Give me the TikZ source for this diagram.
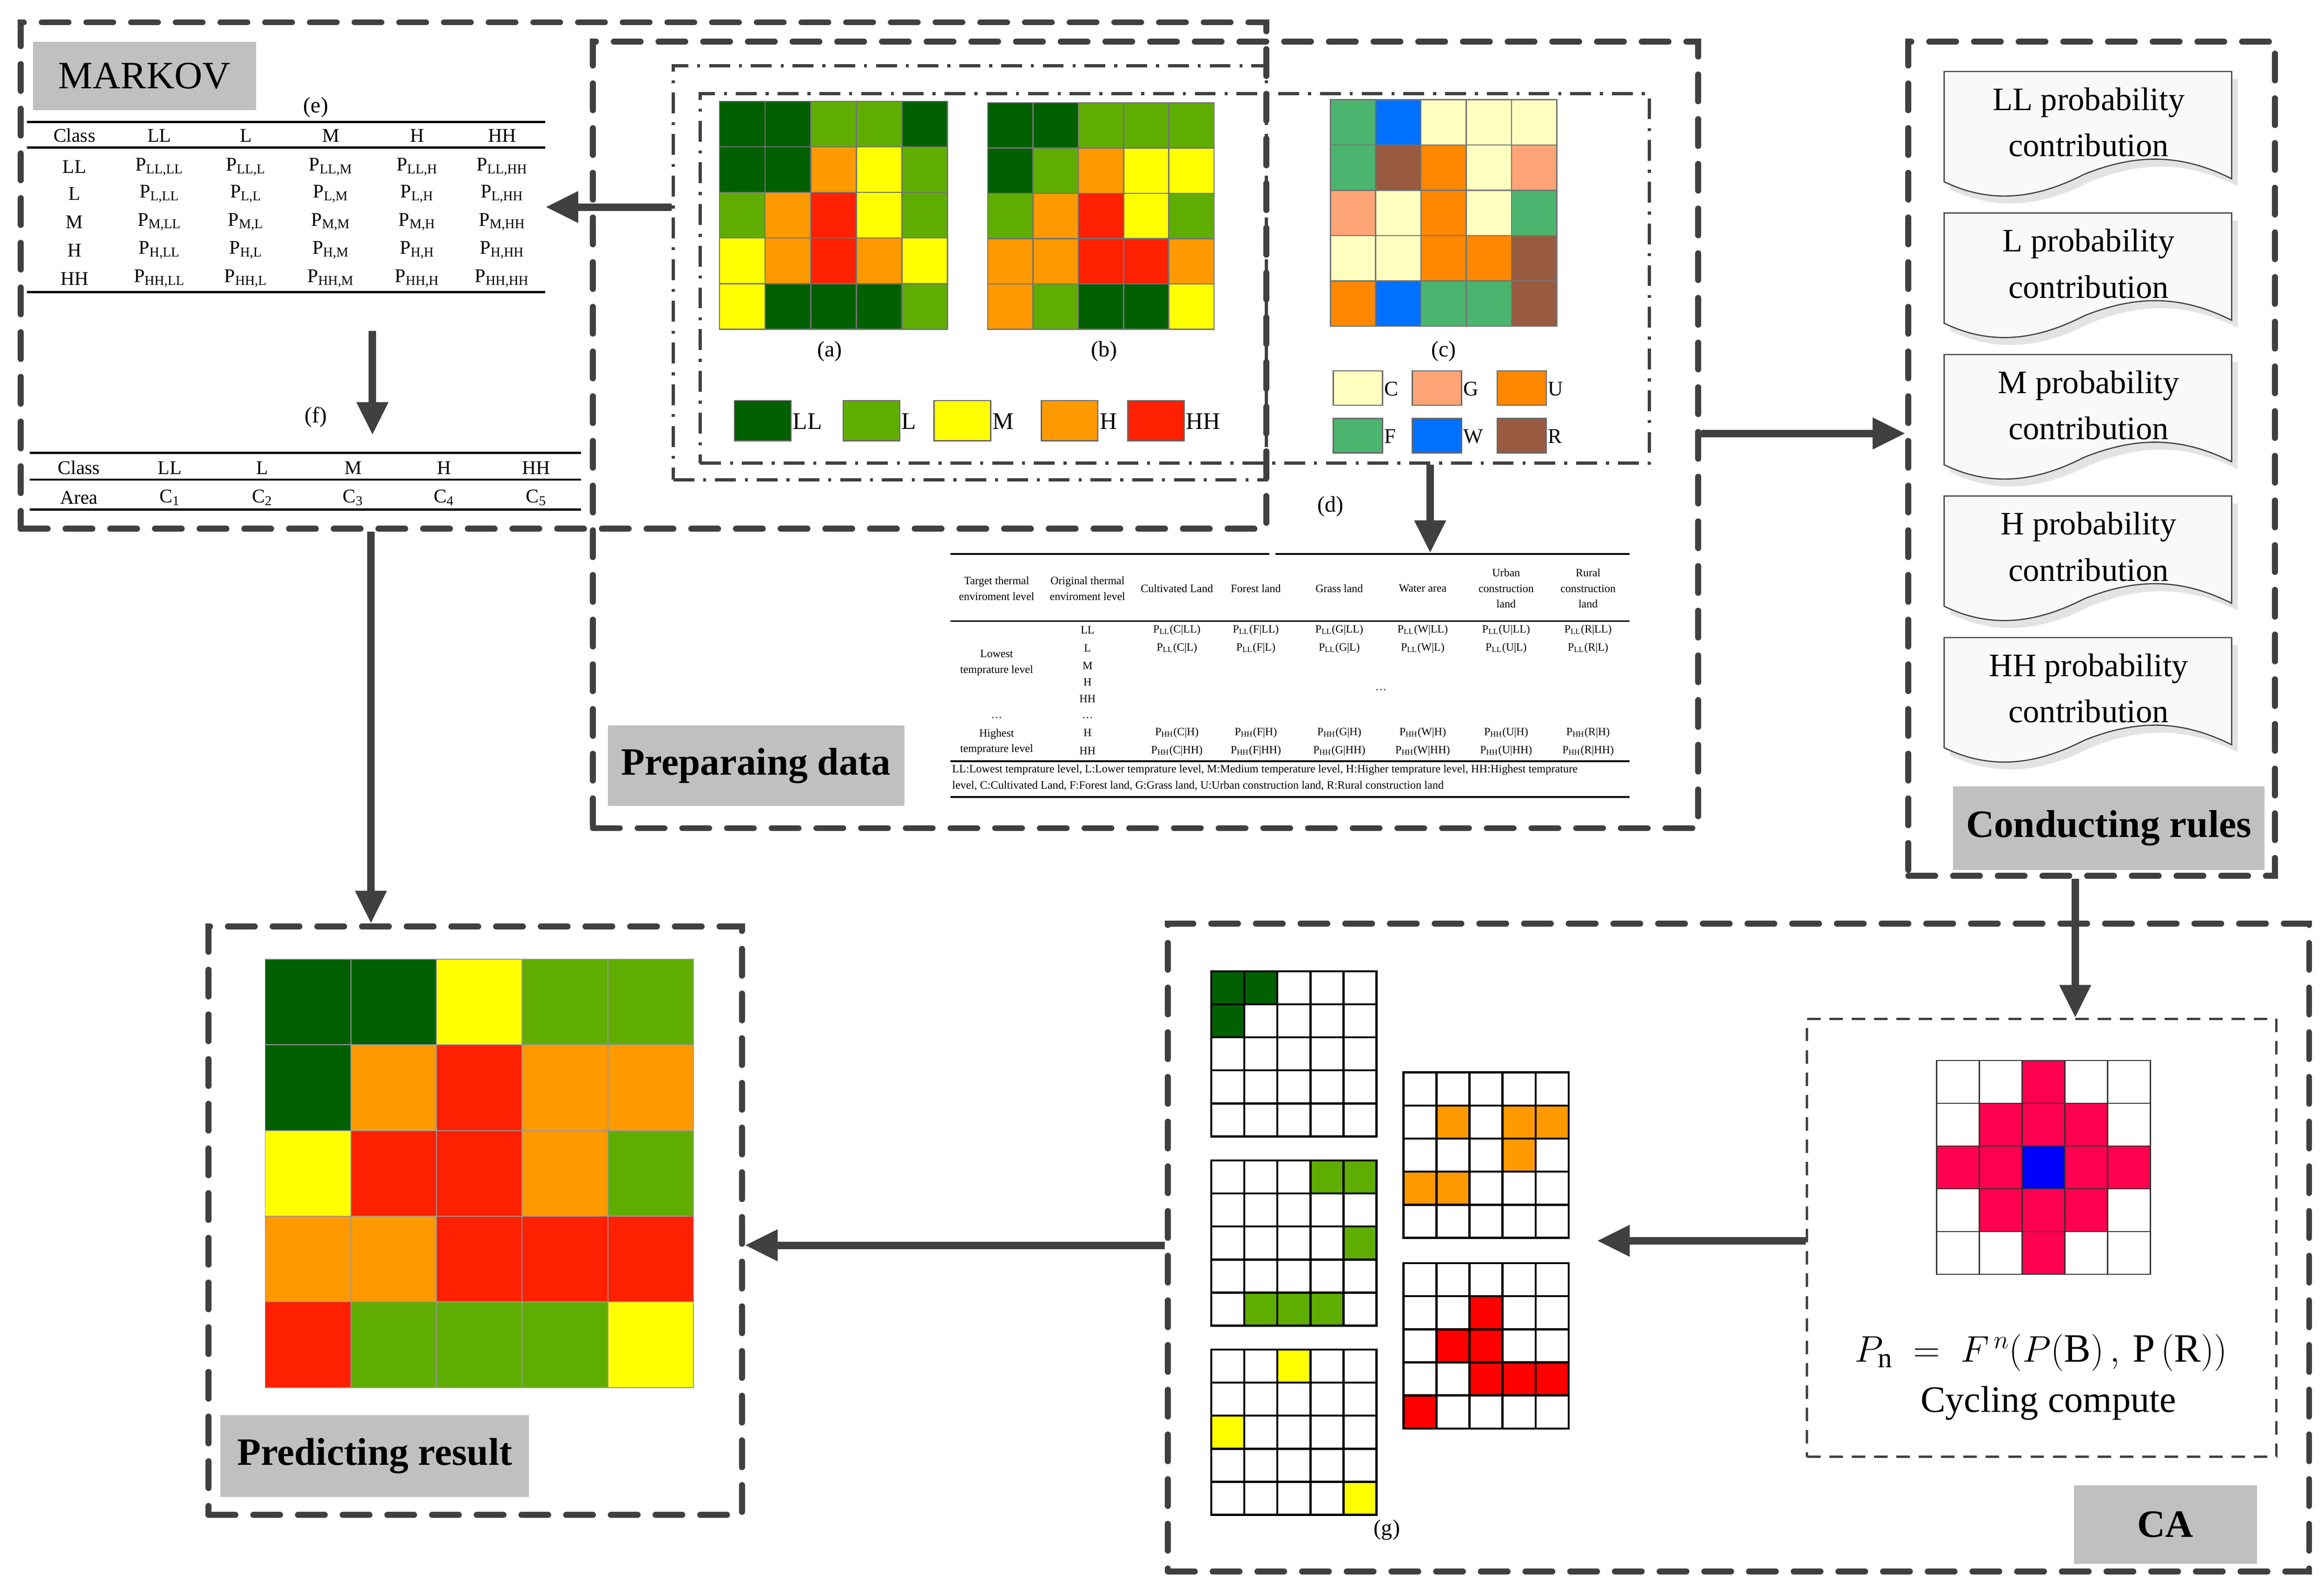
\documentclass[tikz,border=0pt]{standalone}
\usepackage{fontspec}
\setmainfont{Liberation Serif}
\usetikzlibrary{arrows.meta,calc}
\definecolor{kLL}{HTML}{006000}\definecolor{kL}{HTML}{5FAD00}\definecolor{kM}{HTML}{FFFF00}
\definecolor{kH}{HTML}{FF9900}\definecolor{kHH}{HTML}{FF2000}\definecolor{kC}{HTML}{FFFFC0}
\definecolor{kG}{HTML}{FFA477}\definecolor{kU}{HTML}{FF8800}\definecolor{kF}{HTML}{4BB56F}
\definecolor{kW}{HTML}{0070FF}\definecolor{kR}{HTML}{995B40}\definecolor{kO}{HTML}{FFFFFF}
\definecolor{kP}{HTML}{FF0050}\definecolor{kB}{HTML}{0000FF}\definecolor{kX}{HTML}{FF0000}
\definecolor{dk}{HTML}{404040}\definecolor{lab}{HTML}{C0C0C0}
\newcommand\cellgrid[5]{\foreach \row [count=\i from 0] in {#5} {\foreach \cc [count=\j from 0] in \row {\filldraw[fill=k\cc,#4] ({#1+\j*#3},{#2+\i*#3}) rectangle ++(#3,#3);}}}
\newcommand\fs[1]{\fontsize{#1}{#1}\selectfont}
\begin{document}
\begin{tikzpicture}[x=1pt,y=-1pt,
 bigbox/.style={draw=dk,line width=4pt,dash pattern=on 18pt off 12pt,line cap=round,inner sep=0pt},
 ddbox/.style={draw=dk,line width=2.2pt,dash pattern=on 14pt off 6pt on 2pt off 6pt,inner sep=0pt},
 thinbox/.style={draw=dk,line width=1.5pt,dash pattern=on 9pt off 6pt,inner sep=0pt},
 lbl/.style={fill=lab,inner sep=0pt,font=\fs{26}\bfseries},
 arr/.style={draw=dk,line width=5pt,-{Triangle[length=22pt,width=20pt]}},
 ph/.style={inner sep=0pt},
 te/.style={font=\fs{13},inner sep=0pt},
 td/.style={font=\fontsize{7.5}{10.5}\selectfont,inner sep=0pt,align=center},
 doc/.style={fill=gray!5,draw=black!75,line width=0.8pt},
 dtx/.style={font=\fontsize{22}{31}\selectfont,align=center,inner sep=0pt}]
\useasboundingbox (0,0) rectangle (1560,1066);
% boxes
\node[bigbox,minimum width=836pt,minimum height=340pt] (markov) at (432,185) {};
\node[bigbox,minimum width=742pt,minimum height=528pt] (prep) at (769,292) {};
\node[ddbox,minimum width=398pt,minimum height=278pt] (ddA) at (651,183) {};
\node[ddbox,minimum width=637pt,minimum height=248pt] (ddB) at (788.5,187) {};
\node[bigbox,minimum width=246pt,minimum height=560pt] (rules) at (1404,308) {};
\node[bigbox,minimum width=358pt,minimum height=395pt] (pred) at (319,819.5) {};
\node[bigbox,minimum width=766pt,minimum height=435pt] (ca) at (1167,837.5) {};
\node[thinbox,minimum width=315pt,minimum height=294pt] (cyc) at (1370.5,831) {};
% labels
\node[lbl,minimum width=150pt,minimum height=46pt,font=\fs{26}] (lmk) at (97,51) {MARKOV};
\node[lbl,minimum width=199pt,minimum height=54pt] (lpd) at (507.5,514) {Preparaing data};
\node[lbl,minimum width=209pt,minimum height=56pt] (lcr) at (1415.5,556) {Conducting rules};
\node[lbl,minimum width=207pt,minimum height=55pt] (lpr) at (251.5,977.5) {Predicting result};
\node[lbl,minimum width=123pt,minimum height=53pt] (lca) at (1453.5,1023.5) {CA};
% maps a b c
\cellgrid{483}{68}{30.6}{draw=black!55,line width=0.8pt}{{LL,LL,L,L,LL},{LL,LL,H,M,L},{L,H,HH,M,L},{M,H,HH,H,M},{M,LL,LL,LL,L}}
\cellgrid{663}{69}{30.4}{draw=black!55,line width=0.8pt}{{LL,LL,L,L,L},{LL,L,H,M,M},{L,H,HH,M,L},{H,H,HH,HH,H},{H,L,LL,LL,M}}
\cellgrid{893}{67}{30.4}{draw=black!55,line width=0.8pt}{{F,W,C,C,C},{F,R,U,C,G},{G,C,U,C,F},{C,C,U,U,R},{U,W,F,F,R}}
\node[te,font=\fs{15}] (la) at (557,236) {(a)};
\node[te,font=\fs{15}] (lb) at (741,236) {(b)};
\node[te,font=\fs{15}] (lc) at (969,236) {(c)};
% legends
\foreach \k/\x/\t in {LL/493/LL,L/566/L,M/627/M,H/699/H,HH/757/HH}{
 \filldraw[fill=k\k,draw=black!60,line width=0.8pt] (\x,269) rectangle ++(38,27);
 \node[te,font=\fs{16},anchor=west] (leg\k) at (\x+39,283) {\t};}
\foreach \k/\x/\y in {C/895/249,G/948/249,U/1005/249,F/895/281,W/948/281,R/1005/281}{
 \filldraw[fill=k\k,draw=black!60,line width=0.8pt] (\x,\y) rectangle ++(33,23);
 \node[te,font=\fs{14},anchor=west] (lg\k) at (\x+34,\y+12) {\k};}
\node[te,font=\fs{15}] (ld) at (893,340) {(d)};
% table e
\node[ph,minimum width=348pt,minimum height=114pt] (tabE) at (192,139) {};
\node[te,font=\fs{15}] (le) at (212,72) {(e)};
\foreach \yy in {82,99,196} \draw[line width=1.5pt] (18,\yy) -- (366,\yy);
\foreach \c/\x in {Class/50,LL/107,L/165,M/222,H/280,HH/337} \node[te] (eh\x) at (\x,91) {\c};
\foreach \r/\y in {LL/112,L/130,M/149,H/168,HH/187}{
 \node[te] (er\y) at (50,\y) {\r};
 \foreach \c/\x in {LL/107,L/165,M/222,H/280,HH/337} \node[te] (e\x\y) at (\x,\y) {P\textsubscript{\r,\c}};}
% table f
\node[ph,minimum width=370pt,minimum height=38pt] (tabF) at (205,323) {};
\node[te,font=\fs{15}] (lf) at (212,280) {(f)};
\foreach \yy in {304,322,342} \draw[line width=1.5pt] (20,\yy) -- (390,\yy);
\foreach \c/\x/\n in {Class/53/0,LL/114/1,L/176/2,M/237/3,H/298/4,HH/360/5}{
 \node[te] (fh\n) at (\x,314) {\c};
 \node[te] (fa\n) at (\x,334) {\ifnum\n=0 Area\else C\textsubscript{\n}\fi};}
% table d
\node[ph,minimum width=456pt,minimum height=163pt] (tabD) at (866,453) {};
\draw[line width=1.2pt] (638,372) -- (852,372) (856,372) -- (1094,372);
\foreach \yy in {417,511,535} \draw[line width=1.2pt] (638,\yy) -- (1094,\yy);
\foreach \t/\x [count=\n] in {Target thermal\\enviroment level/669,Original thermal\\enviroment level/730,Cultivated Land/790,Forest land/843,Grass land/899,Water area/955,Urban\\construction\\land/1011,Rural\\construction\\land/1066}
 \node[td] (dh\n) at (\x,395) {\t};
\foreach \t/\y [count=\n] in {LL/423,L/435,M/447,H/458,HH/469,\ldots/482,H/492,HH/504} \node[td] (do\n) at (730,\y) {\t};
\node[td] (dlow) at (669,445) {Lowest\\temprature level};
\node[td] (ddots) at (669,482) {\ldots};
\node[td] (dhigh) at (669,498) {Highest\\temprature level};
\node[td] (dmid) at (927,463) {\ldots};
\foreach \k/\x in {C/790,F/843,G/899,W/955,U/1011,R/1066}{
 \node[td] (dA\k) at (\x,423) {P\textsubscript{LL}(\k|LL)};
 \node[td] (dB\k) at (\x,435) {P\textsubscript{LL}(\k|L)};
 \node[td] (dC\k) at (\x,492) {P\textsubscript{HH}(\k|H)};
 \node[td] (dD\k) at (\x,504) {P\textsubscript{HH}(\k|HH)};}
\node[td,anchor=west,font=\fontsize{7.6}{9}\selectfont] (fn1) at (639,517) {LL:Lowest temprature level, L:Lower temprature level, M:Medium temperature level, H:Higher temprature level, HH:Highest temprature};
\node[td,anchor=west,font=\fontsize{7.6}{9}\selectfont] (fn2) at (639,527.5) {level, C:Cultivated Land, F:Forest land, G:Grass land, U:Urban construction land, R:Rural construction land};
% documents
\foreach \nm/\T in {LL/48,L/143,M/238,H/333,HH/428}{
 \fill[gray!22] (1309,\T+5) -- (1502,\T+5) -- (1502,\T+77) .. controls (1468,\T+60) and (1438,\T+60) .. (1403,\T+74) .. controls (1368,\T+92) and (1338,\T+93) .. (1309,\T+79) -- cycle;
 \filldraw[doc] (1305,\T) -- (1498,\T) -- (1498,\T+72) .. controls (1464,\T+55) and (1434,\T+55) .. (1399,\T+69) .. controls (1364,\T+87) and (1334,\T+88) .. (1305,\T+74) -- cycle;
 \node[dtx] (doc\nm) at (1402,\T+34) {\nm{} probability\\contribution};}
% predicted grid
\node[ph,minimum width=287pt,minimum height=288pt] (pgrid) at (321.5,788) {};
\cellgrid{178}{644}{57.5}{draw=black!40,line width=0.6pt}{{LL,LL,M,L,L},{LL,H,HH,H,H},{M,HH,HH,H,L},{H,H,HH,HH,HH},{HH,L,L,L,M}}
% g grids
\cellgrid{813}{652}{22.2}{draw=black,line width=1.4pt}{{LL,LL,O,O,O},{LL,O,O,O,O},{O,O,O,O,O},{O,O,O,O,O},{O,O,O,O,O}}
\cellgrid{813}{779}{22.2}{draw=black,line width=1.4pt}{{O,O,O,L,L},{O,O,O,O,O},{O,O,O,O,L},{O,O,O,O,O},{O,L,L,L,O}}
\cellgrid{813}{906}{22.2}{draw=black,line width=1.4pt}{{O,O,M,O,O},{O,O,O,O,O},{M,O,O,O,O},{O,O,O,O,O},{O,O,O,O,M}}
\cellgrid{942}{720}{22.2}{draw=black,line width=1.4pt}{{O,O,O,O,O},{O,H,O,H,H},{O,O,O,H,O},{H,H,O,O,O},{O,O,O,O,O}}
\cellgrid{942}{848}{22.2}{draw=black,line width=1.4pt}{{O,O,O,O,O},{O,O,X,O,O},{O,X,X,O,O},{O,O,X,X,X},{X,O,O,O,O}}
\node[te,font=\fs{15}] (lg) at (931,1027) {(g)};
\coordinate (gEnd) at (1072,833);
% CA grid
\cellgrid{1300}{712}{28.7}{draw=black!80,line width=0.8pt}{{O,O,P,O,O},{O,P,P,P,O},{P,P,B,P,P},{O,P,P,P,O},{O,O,P,O,O}}
\node[te,font=\fs{27}] (form) at (1370,908) {$P_{\mathrm{n}}\;=\;F^{\,n}(P(\mathrm{B})\,,\,\mathrm{P}\,(\mathrm{R}))$};
\node[te,font=\fs{25}] (cyct) at (1375,942) {Cycling compute};
% arrows
\coordinate (c2a) at (250,222); \coordinate (c2b) at (250,292);
\coordinate (cx3) at (249,0); \coordinate (cy4) at (0,291); \coordinate (cx5) at (1393,0);
\coordinate (cy7) at (0,836); \coordinate (cx8) at (960,0);
\draw[arr] (ddA.west |- tabE.east) -- (tabE.east);
\draw[arr] (c2a) -- (c2b);
\draw[arr] (markov.south -| cx3) -- (pred.north -| cx3);
\draw[arr] (prep.east |- cy4) -- (rules.west |- cy4);
\draw[arr] (rules.south -| cx5) -- (cyc.north -| cx5);
\draw[arr] (cyc.west |- gEnd) -- (gEnd);
\draw[arr] (ca.west |- cy7) -- (pred.east |- cy7);
\draw[arr] (ddB.south -| cx8) -- (tabD.north -| cx8);
\end{tikzpicture}
\end{document}
